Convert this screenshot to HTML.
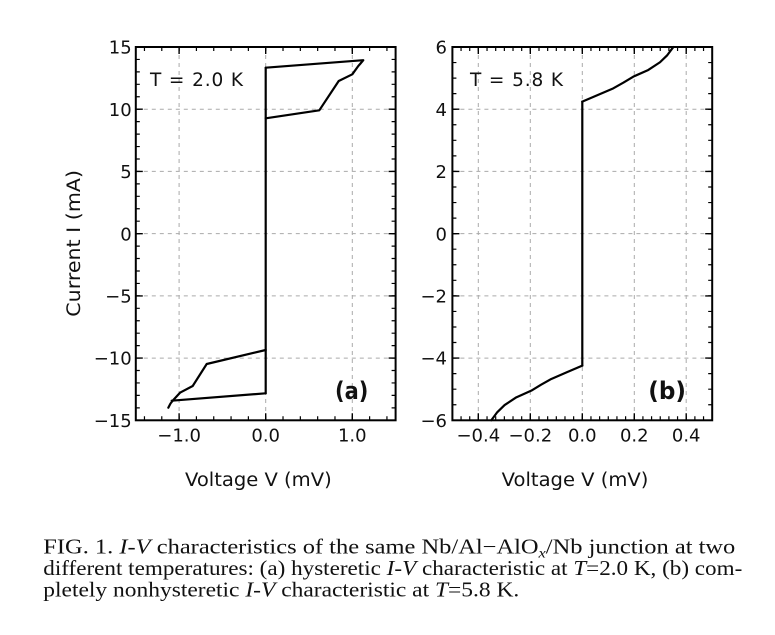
<!DOCTYPE html>
<html>
<head>
<meta charset="utf-8">
<style>
  html, body { margin:0; padding:0; background:#fff; }
  body { width:775px; height:635px; overflow:hidden; }
  svg { display:block; }
  .lbl { font-family:"DejaVu Sans","Liberation Sans",sans-serif; font-size:18px; fill:#111; }
  .cap { font-family:"Liberation Serif",serif; font-size:21px; fill:#111; }
</style>
</head>
<body>
<svg width="775" height="635" viewBox="0 0 775 635" xmlns="http://www.w3.org/2000/svg">
  <rect x="0" y="0" width="775" height="635" fill="#fff"/>

  <!-- ===== GRID ===== -->
  <g stroke="#aaa" stroke-width="1" stroke-dasharray="4 4" fill="none">
    <line x1="179.1" y1="47" x2="179.1" y2="420.3"/>
    <line x1="265.7" y1="47" x2="265.7" y2="420.3"/>
    <line x1="352.3" y1="47" x2="352.3" y2="420.3"/>
    <line x1="135.8" y1="109.2" x2="395.6" y2="109.2"/>
    <line x1="135.8" y1="171.4" x2="395.6" y2="171.4"/>
    <line x1="135.8" y1="233.65" x2="395.6" y2="233.65"/>
    <line x1="135.8" y1="295.9" x2="395.6" y2="295.9"/>
    <line x1="135.8" y1="358.1" x2="395.6" y2="358.1"/>
    <line x1="478.3" y1="47" x2="478.3" y2="420.3"/>
    <line x1="530.3" y1="47" x2="530.3" y2="420.3"/>
    <line x1="582.3" y1="47" x2="582.3" y2="420.3"/>
    <line x1="634.3" y1="47" x2="634.3" y2="420.3"/>
    <line x1="686.2" y1="47" x2="686.2" y2="420.3"/>
    <line x1="452.4" y1="109.2" x2="712.2" y2="109.2"/>
    <line x1="452.4" y1="171.4" x2="712.2" y2="171.4"/>
    <line x1="452.4" y1="233.65" x2="712.2" y2="233.65"/>
    <line x1="452.4" y1="295.9" x2="712.2" y2="295.9"/>
    <line x1="452.4" y1="358.1" x2="712.2" y2="358.1"/>
  </g>

  <!-- ===== DATA ===== -->
  <g stroke="#000" stroke-width="2.2" fill="none" stroke-linejoin="round" stroke-linecap="round">
    <line x1="265.7" y1="67.7" x2="265.7" y2="393.3"/>
    <polyline points="265.7,67.7 363.3,60.2 360.5,63.5 358.3,66 352.3,74.3 338.7,81 319.3,110.3 265.7,118.3"/>
    <polyline points="168.3,407.7 170.5,403.5 173.3,400 180,392.7 192.7,386 206.7,364 265.7,350"/>
    <line x1="171.7" y1="400.7" x2="265.7" y2="393.3"/>
    <line x1="582.3" y1="101.65" x2="582.3" y2="365.65"/>
    <polyline points="582.3,101.65 597.8,95 613.3,88.35 623.5,82.6 633.3,76.65 648.3,69.95 660,62.25 667.3,55.15 673.3,47.05"/>
    <polyline points="582.3,365.65 566.8,372.3 551.3,378.95 541.1,384.7 531.3,390.65 516.3,397.35 504.6,405.05 497.3,412.15 491.3,420.25"/>
  </g>

  <!-- ===== FRAMES ===== -->
  <g stroke="#000" fill="none">
    <rect x="135.8" y="47" width="259.8" height="373.3" stroke-width="2"/>
    <rect x="452.4" y="47" width="259.8" height="373.3" stroke-width="2"/>
  </g>

  <!-- ===== TICKS ===== -->
  <g stroke="#000" fill="none">
    <line x1="137.8" y1="46.4" x2="137.8" y2="420.9" stroke-width="4" stroke-dasharray="1.2 11.243"/>
    <line x1="393.6" y1="46.4" x2="393.6" y2="420.9" stroke-width="4" stroke-dasharray="1.2 11.243"/>
    <line x1="143.86" y1="418.3" x2="387.54" y2="418.3" stroke-width="4" stroke-dasharray="1.2 16.12"/>
    <line x1="143.86" y1="49" x2="387.54" y2="49" stroke-width="4" stroke-dasharray="1.2 16.12"/>
    <line x1="454.4" y1="46.4" x2="454.4" y2="420.9" stroke-width="4" stroke-dasharray="1.2 14.354"/>
    <line x1="710.2" y1="46.4" x2="710.2" y2="420.9" stroke-width="4" stroke-dasharray="1.2 14.354"/>
    <line x1="451.8" y1="418.3" x2="712.8" y2="418.3" stroke-width="4" stroke-dasharray="1.2 7.46"/>
    <line x1="451.8" y1="49" x2="712.8" y2="49" stroke-width="4" stroke-dasharray="1.2 7.46"/>
  </g>
  <g stroke="#000" stroke-width="1.4" fill="none">
    <path d="M135.8,109.2h7 M135.8,171.4h7 M135.8,233.65h7 M135.8,295.9h7 M135.8,358.1h7
             M395.6,109.2h-7 M395.6,171.4h-7 M395.6,233.65h-7 M395.6,295.9h-7 M395.6,358.1h-7"/>
    <path d="M179.1,420.3v-7 M265.7,420.3v-7 M352.3,420.3v-7 M179.1,47v7 M265.7,47v7 M352.3,47v7"/>
    <path d="M452.4,109.2h7 M452.4,171.4h7 M452.4,233.65h7 M452.4,295.9h7 M452.4,358.1h7
             M712.2,109.2h-7 M712.2,171.4h-7 M712.2,233.65h-7 M712.2,295.9h-7 M712.2,358.1h-7"/>
    <path d="M478.3,420.3v-7 M530.3,420.3v-7 M582.3,420.3v-7 M634.3,420.3v-7 M686.2,420.3v-7
             M478.3,47v7 M530.3,47v7 M582.3,47v7 M634.3,47v7 M686.2,47v7"/>
  </g>

  <!-- ===== TICK LABELS ===== -->
  <g class="lbl" text-anchor="end">
    <text x="131.7" y="53.6">15</text>
    <text x="131.7" y="115.8">10</text>
    <text x="131.7" y="178">5</text>
    <text x="131.7" y="240.3">0</text>
    <text x="131.7" y="302.5">−5</text>
    <text x="131.7" y="364.7">−10</text>
    <text x="131.7" y="426.9">−15</text>
    <text x="447" y="53.6">6</text>
    <text x="447" y="115.8">4</text>
    <text x="447" y="178">2</text>
    <text x="447" y="240.3">0</text>
    <text x="447" y="302.5">−2</text>
    <text x="447" y="364.7">−4</text>
    <text x="447" y="426.9">−6</text>
  </g>
  <g class="lbl" text-anchor="middle">
    <text x="179.1" y="441.5">−1.0</text>
    <text x="265.7" y="441.5">0.0</text>
    <text x="352.3" y="441.5">1.0</text>
    <text x="478.3" y="441.5">−0.4</text>
    <text x="530.3" y="441.5">−0.2</text>
    <text x="582.3" y="441.5">0.0</text>
    <text x="634.3" y="441.5">0.2</text>
    <text x="686.2" y="441.5">0.4</text>
  </g>

  <!-- ===== ANNOTATIONS ===== -->
  <text class="lbl" x="150" y="86" style="font-size:18.5px" textLength="93" lengthAdjust="spacing">T = 2.0 K</text>
  <text class="lbl" x="470" y="86" style="font-size:18.5px" textLength="93" lengthAdjust="spacing">T = 5.8 K</text>

  <text x="335" y="399" font-family="DejaVu Sans, Liberation Sans, sans-serif" font-weight="bold" font-size="24" fill="#111" textLength="33.3" lengthAdjust="spacingAndGlyphs">(a)</text>
  <text x="648.3" y="399" font-family="DejaVu Sans, Liberation Sans, sans-serif" font-weight="bold" font-size="24" fill="#111" textLength="37.7" lengthAdjust="spacingAndGlyphs">(b)</text>

  <text class="lbl" x="185" y="486" style="font-size:18.5px" textLength="146.7" lengthAdjust="spacingAndGlyphs">Voltage V (mV)</text>
  <text class="lbl" x="501.7" y="486" style="font-size:18.5px" textLength="146.7" lengthAdjust="spacingAndGlyphs">Voltage V (mV)</text>
  <text class="lbl" transform="translate(80,316.7) rotate(-90)" x="0" y="0" style="font-size:18.5px" textLength="146.7" lengthAdjust="spacingAndGlyphs">Current I (mA)</text>

  <!-- ===== CAPTION ===== -->
  <text class="cap" x="43.3" y="553.5" textLength="692" lengthAdjust="spacingAndGlyphs">FIG. 1. <tspan font-style="italic">I-V</tspan> characteristics of the same Nb/Al−AlO<tspan font-style="italic" font-size="14" dy="4">x</tspan><tspan dy="-4">/Nb junction at two</tspan></text>
  <text class="cap" x="43.3" y="575" textLength="699" lengthAdjust="spacingAndGlyphs">different temperatures: (a) hysteretic <tspan font-style="italic">I-V</tspan> characteristic at <tspan font-style="italic">T</tspan>=2.0 K, (b) com-</text>
  <text class="cap" x="43.3" y="596.5" textLength="476" lengthAdjust="spacingAndGlyphs">pletely nonhysteretic <tspan font-style="italic">I-V</tspan> characteristic at <tspan font-style="italic">T</tspan>=5.8 K.</text>
</svg>
</body>
</html>
